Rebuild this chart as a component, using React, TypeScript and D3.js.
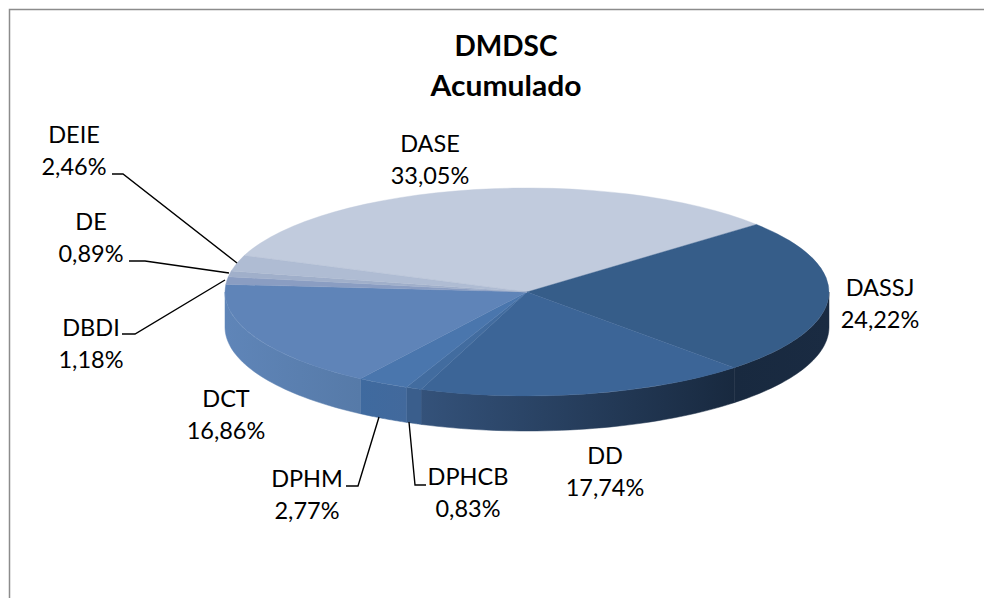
import React from "react";
import * as d3 from "d3";

const categories = ["DASE", "DASSJ", "DD", "DPHCB", "DPHM", "DCT", "DBDI", "DE", "DEIE"];
const values = [33.05, 24.22, 17.74, 0.83, 2.77, 16.86, 1.18, 0.89, 2.46];
const labels = ["33,05%", "24,22%", "17,74%", "0,83%", "2,77%", "16,86%", "1,18%", "0,89%", "2,46%"];
const topColors = ["#c1cbdd", "#365d89", "#3c6597", "#426c9f", "#4a76ad", "#5f84b8", "#8a9dc2", "#a0afca", "#afbcd3"];
const sideLeft = ["#ffffff", "#18293f", "#34527a", "#3a5e8c", "#3f6a9f", "#5f85b8", "#5f85b8", "#5f85b8", "#5f85b8"];
const sideRight = ["#ffffff", "#1a2b42", "#18293f", "#3a5e8c", "#42699c", "#567aa8", "#5f85b8", "#5f85b8", "#5f85b8"];
const labelCx = [430, 880, 605, 468, 307, 226, 91, 91, 74];
const labelCy = [152, 296, 464, 485, 487, 407, 336, 230, 143];
const leaders: [number, number][][] = [
  [],
  [],
  [],
  [[426, 485], [415, 485], [409, 422]],
  [[346, 486], [358, 486], [379, 417]],
  [],
  [[122, 334], [135, 334], [225, 280]],
  [[129, 261], [145, 261], [229, 273]],
  [[112, 174], [123, 174], [237, 263]],
];

const W = 984, H = 598;
const cx = 527, cy = 292, rx = 302, ry = 104, depth = 35;
const FONT = "Lato, 'Open Sans', sans-serif";

export default function App() {
  const pie = d3.pie<number>().sort(null).startAngle((-69.5 * Math.PI) / 180).endAngle((290.5 * Math.PI) / 180);
  const arcs = pie(values);
  const arcGen = d3.arc<d3.PieArcDatum<number>>().innerRadius(0).outerRadius(rx);
  const px = (t: number) => cx + rx * Math.sin(t);
  const py = (t: number) => cy - ry * Math.cos(t);
  const area = d3.area<number>().x(px).y0(py).y1((t) => py(t) + depth);
  const sides = arcs.map((a) => {
    const lo = Math.max(a.startAngle, Math.PI / 2);
    const hi = Math.min(a.endAngle, (3 * Math.PI) / 2);
    if (hi <= lo) return null;
    const ts = d3.range(0, 41).map((i) => lo + ((hi - lo) * i) / 40);
    return { path: area(ts) as string, x0: px(hi), x1: px(lo) };
  });
  return (
    <svg width={W} height={H} style={{ position: "absolute", left: 0, top: 0 }}>
      <rect x={0} y={0} width={W} height={H} fill="#fff" />
      <path d={`M9.5,${H}V9.5H${W}`} fill="none" stroke="#8c8c8c" strokeWidth={1.5} />
      <defs>
        {sides.map((s, i) =>
          s ? (
            <linearGradient key={i} id={`side${i}`} gradientUnits="userSpaceOnUse" x1={s.x0} x2={s.x1} y1={0} y2={0}>
              <stop offset="0" stopColor={sideLeft[i]} />
              <stop offset="1" stopColor={sideRight[i]} />
            </linearGradient>
          ) : null
        )}
      </defs>
      {sides.map((s, i) => (s ? <path key={i} d={s.path} fill={`url(#side${i})`} stroke={`url(#side${i})`} strokeWidth={0.5} /> : null))}
      <g transform={`translate(${cx},${cy}) scale(1,${ry / rx})`}>
        {arcs.map((a, i) => (
          <path key={categories[i]} d={arcGen(a) as string} fill={topColors[i]} stroke={topColors[i]} strokeWidth={0.6} />
        ))}
      </g>
      {leaders.map((pts, i) =>
        pts.length ? (
          <path key={i} d={d3.line()(pts) as string} fill="none" stroke="#000" strokeWidth={1.4} />
        ) : null
      )}
      <g fontFamily={FONT} fontSize={23.5} fill="#000" textAnchor="middle">
        {categories.map((c, i) => (
          <text key={c} x={labelCx[i]} y={labelCy[i]}>
            <tspan x={labelCx[i]} dy={0}>{c}</tspan>
            <tspan x={labelCx[i]} dy={32}>{labels[i]}</tspan>
          </text>
        ))}
      </g>
      <g fontFamily={FONT} fontSize={28} fontWeight={700} textAnchor="middle" fill="#000">
        <text x={506} y={56}>DMDSC</text>
        <text x={506} y={96} textLength={151} lengthAdjust="spacingAndGlyphs">Acumulado</text>
      </g>
    </svg>
  );
}
